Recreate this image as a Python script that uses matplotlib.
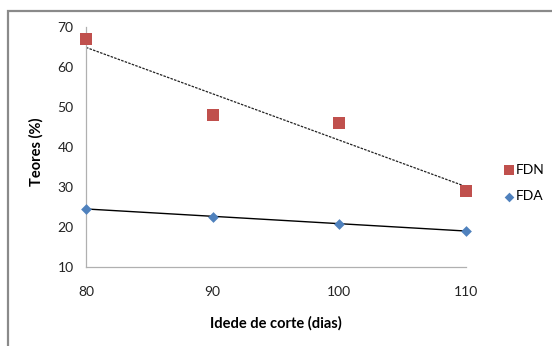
import numpy as np
import matplotlib
matplotlib.use("Agg")
import matplotlib.pyplot as plt
from matplotlib.patches import Rectangle

plt.rcParams['font.family'] = ['Lato', 'DejaVu Sans']

idade = [80, 90, 100, 110]
fdn = [67, 48, 46, 29]
fda = [24.6, 22.6, 20.7, 19.1]
x_ticks = [80, 90, 100, 110]
y_ticks = [10, 20, 30, 40, 50, 60, 70]

W, H = 552, 346
fig = plt.figure(figsize=(W / 100, H / 100), dpi=100)
fig.patches.append(Rectangle((8 / W, -0.05), 1.1, 1 - 11 / H + 0.05,
                             transform=fig.transFigure, fill=False,
                             edgecolor='#8a8a8a', linewidth=1.6))

ax = fig.add_axes([86 / W, 1 - 267 / H, (466 - 86) / W, (267 - 27) / H])

xs = np.array(idade, dtype=float)
# linear trend lines
c_fdn = np.polyfit(xs, fdn, 1)
c_fda = np.polyfit(xs, fda, 1)
ax.plot(xs, np.polyval(c_fdn, xs), color='#222222', lw=0.9, ls=(0, (2, 1)), zorder=2)
ax.plot(xs, np.polyval(c_fda, xs), color='black', lw=1.0, zorder=2)

ax.scatter(idade, fdn, marker='s', s=74, color='#C0504D', zorder=3, label='FDN',
           linewidths=0, clip_on=False)
ax.scatter(idade, fda, marker='D', s=30, color='#4F81BD', zorder=3, label='FDA',
           linewidths=0, clip_on=False)

ax.set_xlim(80, 110)
ax.set_ylim(10, 70)
ax.set_xticks(x_ticks)
ax.set_yticks(y_ticks)
ax.tick_params(length=0, labelsize=10, colors='#222222')
ax.tick_params(axis='x', pad=14)
ax.tick_params(axis='y', pad=9)
for side in ('top', 'right'):
    ax.spines[side].set_visible(False)
for side in ('left', 'bottom'):
    ax.spines[side].set_color('#b0b0b0')
    ax.spines[side].set_linewidth(0.9)
ax.patch.set_alpha(0)

ax.set_xlabel('Idede de corte (dias)', fontsize=10.5, fontweight='bold', labelpad=13)
ax.set_ylabel('Teores (%)', fontsize=10.5, fontweight='bold')
ax.yaxis.set_label_coords(-0.112, 0.48)

leg = ax.legend(loc='center left', bbox_to_anchor=(1.085, 0.35), frameon=False,
                fontsize=10, handletextpad=0.05, labelspacing=1.05,
                handlelength=0.8, borderaxespad=0, markerscale=0.9)

fig.savefig('out.png', dpi=100)
